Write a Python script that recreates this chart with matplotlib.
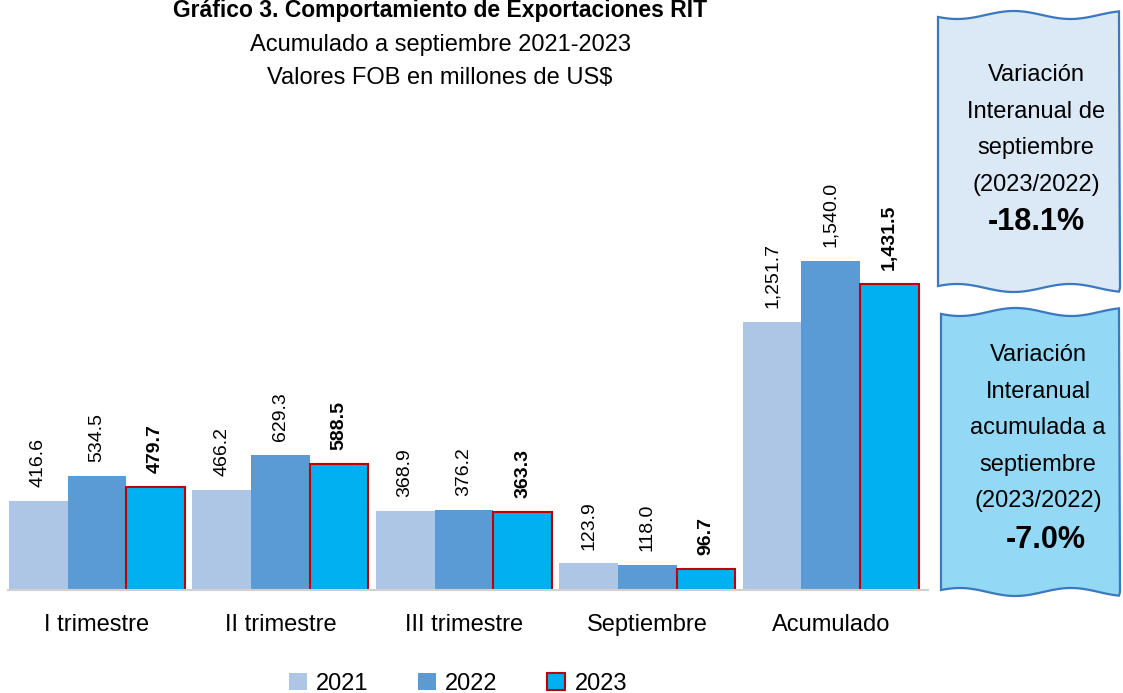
import numpy as np
import matplotlib
matplotlib.use("Agg")
import matplotlib.pyplot as plt
from matplotlib.patches import Polygon, Patch
from matplotlib import font_manager

# ---- data ----
categories = ["I trimestre", "II trimestre", "III trimestre", "Septiembre", "Acumulado"]
years = ["2021", "2022", "2023"]
v2021 = [416.6, 466.2, 368.9, 123.9, 1251.7]
v2022 = [534.5, 629.3, 376.2, 118.0, 1540.0]
v2023 = [479.7, 588.5, 363.3, 96.7, 1431.5]
var_sep = "-18.1%"
var_acum = "-7.0%"

C21 = "#adc6e6"
C22 = "#5b9bd5"
C23 = "#00b0f0"
RED = "#c00000"
EDGE = "#3a78c0"

names = {f.name for f in font_manager.fontManager.ttflist}
FAM = ["Liberation Sans Narrow"] if "Liberation Sans Narrow" in names else ["Liberation Sans"]
plt.rcParams["font.family"] = FAM + ["DejaVu Sans"]

W, H = 1123, 693
fig = plt.figure(figsize=(W / 100, H / 100), dpi=100)


def fx(px):
    return px / W


def fy(py):
    return 1 - py / H


# ---- bar axes ----
ax = fig.add_axes([fx(8), fy(590), fx(928) - fx(8), (590 - 205) / H])
x = np.arange(len(categories))
bw = 0.32
series = [(v2021, C21, "none", 0), (v2022, C22, "none", 0), (v2023, C23, RED, 1.5)]
for i, (vals, col, ec, lw) in enumerate(series):
    xs = x + (i - 1) * bw
    ax.bar(xs, vals, width=bw, color=col, edgecolor=ec, linewidth=lw, zorder=2)
    for xi, v in zip(xs, vals):
        ax.text(xi, v + 65, f"{v:,.1f}", rotation=90, ha="center", va="bottom",
                fontsize=14, fontweight="bold" if i == 2 else "normal")

ax.set_xlim(-0.485, 4.53)
ax.set_ylim(0, 1800)
for s in ["top", "right", "left"]:
    ax.spines[s].set_visible(False)
ax.spines["bottom"].set_color("#d0d0d0")
ax.spines["bottom"].set_linewidth(1.5)
ax.set_yticks([])
ax.set_xticks(x)
ax.set_xticklabels(categories, fontsize=17)
ax.tick_params(axis="x", length=0, pad=17)

# ---- titles ----
fig.text(fx(440), fy(11), "Gráfico 3. Comportamiento de Exportaciones RIT", ha="center",
         va="center", fontsize=16.5, fontweight="bold")
fig.text(fx(440), fy(45), "Acumulado a septiembre 2021-2023", ha="center", va="center",
         fontsize=17)
fig.text(fx(440), fy(78), "Valores FOB en millones de US$", ha="center", va="center",
         fontsize=17)

# ---- legend ----
handles = [Patch(facecolor=C21, edgecolor="none"),
           Patch(facecolor=C22, edgecolor="none"),
           Patch(facecolor=C23, edgecolor=RED, linewidth=1.5)]
fig.legend(handles, years, loc="center", bbox_to_anchor=(fx(458), fy(684)), ncol=3,
           frameon=False, fontsize=17, handlelength=0.75, handleheight=0.75,
           handletextpad=0.4, columnspacing=2.1)

# ---- wavy boxes ----
ov = fig.add_axes([0, 0, 1, 1])
ov.set_xlim(0, W)
ov.set_ylim(H, 0)
ov.axis("off")
ov.patch.set_alpha(0)


def wavy_box(x0, x1, y0, y1, fc):
    t = np.linspace(0, 1, 80)
    top = np.column_stack([x0 + (x1 - x0) * t, y0 + 4 * np.sin(t * 2 * np.pi * 1.6 + 0.5)])
    right = np.array([[x1, y0], [x1 + 1, y1]])
    bot = np.column_stack([x1 - (x1 - x0) * t, y1 + 4 * np.sin(t * 2 * np.pi * 1.6 + 2.0)])
    pts = np.vstack([top, right, bot])
    ov.add_patch(Polygon(pts, closed=True, facecolor=fc, edgecolor=EDGE, linewidth=1.6))


wavy_box(938, 1119, 15, 288, "#dbe8f5")
wavy_box(941, 1119, 312, 592, "#93d9f5")

box1 = ["Variación", "Interanual de", "septiembre", "(2023/2022)"]
for k, line in enumerate(box1):
    ov.text(1036, 75 + k * 36.7, line, ha="center", va="center", fontsize=17)
ov.text(1036, 222, var_sep, ha="center", va="center", fontsize=22, fontweight="bold")

box2 = ["Variación", "Interanual", "acumulada a", "septiembre", "(2023/2022)"]
for k, line in enumerate(box2):
    ov.text(1038, 355 + k * 36.5, line, ha="center", va="center", fontsize=17)
ov.text(1046, 540, var_acum, ha="center", va="center", fontsize=22, fontweight="bold")

fig.savefig("out.png", dpi=100, facecolor="white")
